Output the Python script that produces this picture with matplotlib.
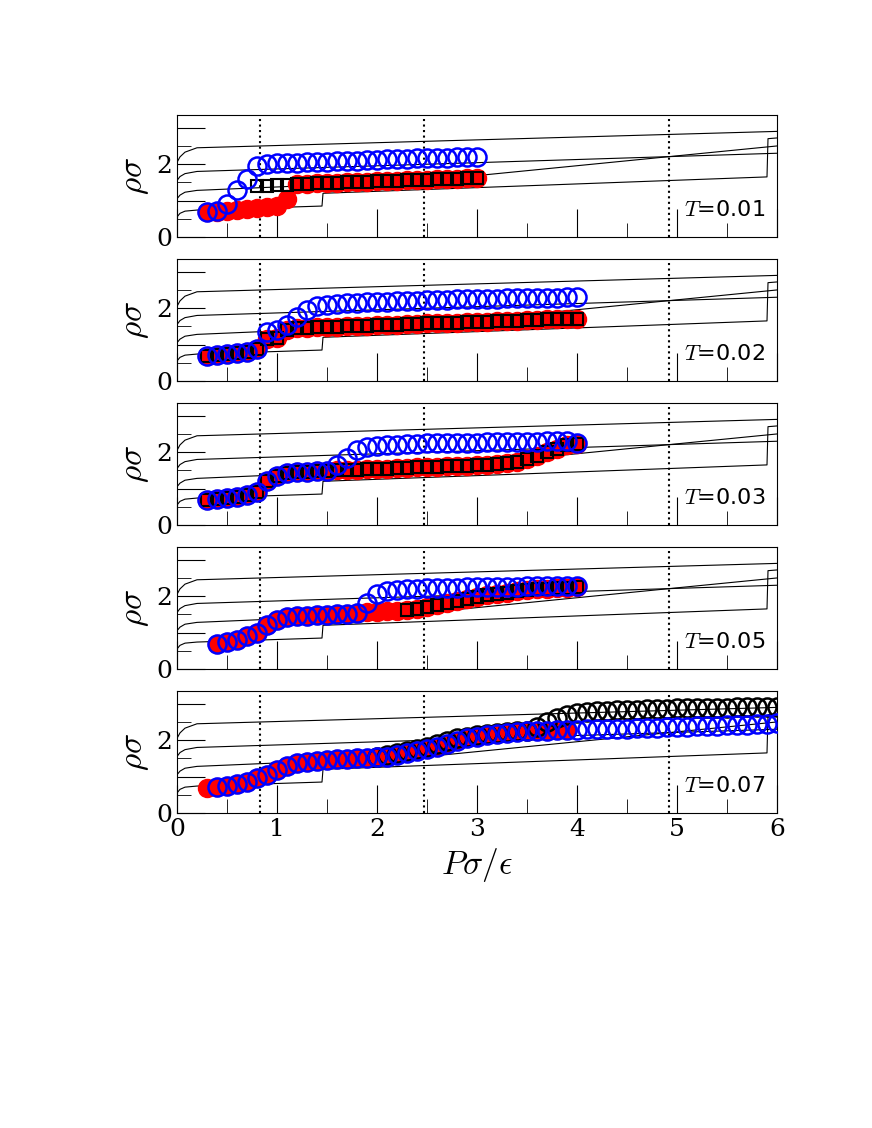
import matplotlib.pyplot as plt
import numpy as np
from matplotlib.ticker import MultipleLocator, FuncFormatter

plt.rcParams['mathtext.fontset'] = 'cm'
plt.rcParams['font.family'] = 'DejaVu Serif'

temps = ['0.01', '0.02', '0.03', '0.05', '0.07']
vlines = [0.83, 2.47, 4.92]

# thin reference curves (x, y)
curves = [
    ([0, 0.03, 0.08, 0.2, 1.45, 1.46, 5.9, 5.91, 6.0], [0.55, 0.65, 0.71, 0.74, 0.85, 1.2, 1.65, 2.7, 2.72]),
    ([0, 0.03, 0.08, 0.2, 2.5, 6.0], [1.05, 1.15, 1.23, 1.28, 1.55, 2.5]),
    ([0, 0.03, 0.08, 0.2, 6.0], [1.55, 1.66, 1.74, 1.8, 2.3]),
    ([0, 0.03, 0.08, 0.2, 6.0], [2.05, 2.2, 2.33, 2.45, 2.9]),
]

# panel data: (x_start, y values) at step 0.1
red = [
    [(0.3, [0.7, 0.7, 0.72, 0.75, 0.78, 0.8, 0.82, 0.85, 1.05]),
     (1.2, [1.45, 1.46, 1.47, 1.48, 1.49, 1.5, 1.51, 1.52, 1.53, 1.54, 1.55, 1.56, 1.56, 1.57, 1.58, 1.59, 1.6, 1.61, 1.62])],
    [(0.3, [0.7, 0.72, 0.74, 0.76, 0.8, 0.88, 1.15, 1.18, 1.4, 1.45, 1.46, 1.47, 1.48, 1.49, 1.5, 1.51, 1.52, 1.53, 1.54,
            1.55, 1.56, 1.57, 1.58, 1.59, 1.6, 1.6, 1.61, 1.62, 1.63, 1.64, 1.65, 1.66, 1.67, 1.68, 1.69, 1.7, 1.7, 1.71])],
    [(0.3, [0.7, 0.72, 0.74, 0.78, 0.82, 0.9, 1.2, 1.35, 1.42, 1.45, 1.46, 1.47, 1.48, 1.5, 1.51, 1.52, 1.53, 1.54, 1.55,
            1.56, 1.57, 1.58, 1.59, 1.6, 1.61, 1.62, 1.63, 1.64, 1.65, 1.67, 1.7, 1.74, 1.8, 1.9, 2.0, 2.1, 2.2, 2.22])],
    [(0.4, [0.7, 0.75, 0.8, 0.9, 1.0, 1.2, 1.35, 1.42, 1.45, 1.46, 1.47, 1.48, 1.5, 1.52, 1.55, 1.56, 1.57, 1.58, 1.6,
            1.63, 1.66, 1.7, 1.75, 1.8, 1.86, 1.92, 1.98, 2.03, 2.07, 2.1, 2.13, 2.16, 2.19, 2.21, 2.22, 2.23, 2.24])],
    [(0.3, [0.7, 0.72, 0.75, 0.8, 0.85, 0.95, 1.05, 1.18, 1.3, 1.36, 1.4, 1.43, 1.45, 1.47, 1.49, 1.5, 1.52, 1.54, 1.55,
            1.6, 1.65, 1.7, 1.75, 1.82, 1.9, 1.98, 2.05, 2.1, 2.15, 2.18, 2.2, 2.22, 2.24, 2.25, 2.26, 2.27, 2.28])],
]
black_sq = [
    [(0.8, [1.4, 1.41, 1.42, 1.43, 1.45, 1.46, 1.47, 1.48, 1.49, 1.5, 1.51, 1.52, 1.53, 1.54, 1.55, 1.56, 1.56, 1.57,
            1.58, 1.59, 1.6, 1.61, 1.62])],
    red[1],
    red[2],
    [(2.3, [1.63, 1.66, 1.7, 1.75, 1.8, 1.86, 1.92, 1.98, 2.03, 2.07, 2.1, 2.13, 2.16, 2.19, 2.21, 2.22, 2.23, 2.24])],
    [],
]
blue = [
    [(0.3, [0.7, 0.72, 0.9, 1.3, 1.6, 1.95, 2.0, 2.02, 2.03, 2.04, 2.05, 2.06, 2.07, 2.08, 2.09, 2.1, 2.11, 2.12, 2.13,
            2.14, 2.15, 2.16, 2.16, 2.17, 2.18, 2.19, 2.2, 2.2])],
    [(0.3, [0.7, 0.72, 0.74, 0.76, 0.8, 0.88, 1.35, 1.4, 1.55, 1.75, 1.95, 2.05, 2.1, 2.12, 2.14, 2.15, 2.16, 2.17, 2.18,
            2.19, 2.2, 2.21, 2.22, 2.23, 2.23, 2.24, 2.25, 2.25, 2.26, 2.26, 2.27, 2.27, 2.28, 2.28, 2.29, 2.29, 2.3, 2.3])],
    [(0.3, [0.7, 0.72, 0.74, 0.78, 0.82, 0.9, 1.2, 1.35, 1.42, 1.45, 1.46, 1.47, 1.48, 1.65, 1.85, 2.05, 2.15, 2.18,
            2.2, 2.21, 2.22, 2.23, 2.24, 2.24, 2.25, 2.25, 2.26, 2.26, 2.27, 2.27, 2.28, 2.28, 2.29, 2.29, 2.3, 2.3, 2.3, 2.25])],
    [(0.4, [0.7, 0.75, 0.8, 0.9, 1.0, 1.2, 1.35, 1.42, 1.45, 1.46, 1.47, 1.48, 1.5, 1.52, 1.55, 1.8, 2.05, 2.15, 2.18,
            2.2, 2.21, 2.22, 2.22, 2.23, 2.23, 2.24, 2.24, 2.25, 2.25, 2.26, 2.26, 2.27, 2.27, 2.28, 2.28, 2.28, 2.28])],
    [(0.4, [0.72, 0.75, 0.8, 0.85, 0.95, 1.05, 1.18, 1.3, 1.36, 1.4, 1.43, 1.45, 1.47, 1.49, 1.5, 1.52, 1.54, 1.55,
            1.6, 1.65, 1.7, 1.75, 1.82, 1.9, 1.98, 2.05, 2.1, 2.15, 2.18, 2.2, 2.22, 2.24, 2.25, 2.26, 2.27, 2.28, 2.29,
            2.3, 2.3, 2.31, 2.31, 2.32, 2.33, 2.33, 2.34, 2.35, 2.36, 2.37, 2.38, 2.39, 2.4, 2.41, 2.42, 2.43, 2.44, 2.45, 2.46])],
]
black_circ = [
    [], [], [], [],
    [(2.0, [1.55, 1.6, 1.65, 1.7, 1.75, 1.82, 1.9, 1.98, 2.05, 2.1, 2.15, 2.18, 2.2, 2.22, 2.24, 2.25, 2.35, 2.5, 2.62,
            2.7, 2.75, 2.78, 2.8, 2.81, 2.82, 2.83, 2.84, 2.85, 2.86, 2.86, 2.87, 2.87, 2.88, 2.88, 2.89, 2.89, 2.9, 2.9,
            2.91, 2.91, 2.92])],
]


def pts(seg):
    x0, ys = seg
    return x0 + 0.1 * np.arange(len(ys)), np.array(ys)


fig = plt.figure(figsize=(8.72, 11.28), dpi=100)
L, W = 177 / 872, 600 / 872
tops = [115, 259, 403, 547, 691]
H = 122

for i, t in enumerate(temps):
    ax = fig.add_axes([L, 1 - (tops[i] + H) / 1128, W, H / 1128])
    for cx, cy in curves:
        ax.plot(cx, cy, color='black', lw=0.8)
    for v in vlines:
        ax.axvline(v, color='black', ls=':', lw=1.5)
    for seg in red[i]:
        x, y = pts(seg)
        ax.plot(x, y, 'o', color='red', ms=13, zorder=3)
    for seg in black_sq[i]:
        x, y = pts(seg)
        ax.plot(x, y, 's', mfc='none', mec='black', ms=9, mew=1.5, zorder=4)
    for seg in black_circ[i]:
        x, y = pts(seg)
        ax.plot(x, y, 'o', mfc='none', mec='black', ms=13, mew=1.8, zorder=4)
    for seg in blue[i]:
        x, y = pts(seg)
        ax.plot(x, y, 'o', mfc='none', mec='blue', ms=13, mew=1.8, zorder=5)
    ax.set_xlim(0, 6)
    ax.set_ylim(0, 3.35)
    ax.xaxis.set_major_locator(MultipleLocator(1))
    ax.xaxis.set_minor_locator(MultipleLocator(0.5))
    ax.yaxis.set_major_locator(MultipleLocator(1))
    ax.yaxis.set_minor_locator(MultipleLocator(0.5))
    ax.yaxis.set_major_formatter(FuncFormatter(lambda v, p: '%d' % v if int(round(v)) % 2 == 0 else ''))
    ax.tick_params(which='major', direction='in', length=20, labelsize=18, top=False, right=False)
    ax.tick_params(which='minor', direction='in', length=10)
    if i < 4:
        ax.set_xticklabels([])
    else:
        ax.set_xlabel(r'$P\sigma/\epsilon$', fontsize=24)
    ax.set_ylabel(r'$\rho\sigma$', fontsize=24)
    ax.text(0.98, 0.22, r'$T$=' + t, transform=ax.transAxes, ha='right', va='center',
            fontsize=16, family='DejaVu Sans')

fig.savefig('out.png', dpi=100)
